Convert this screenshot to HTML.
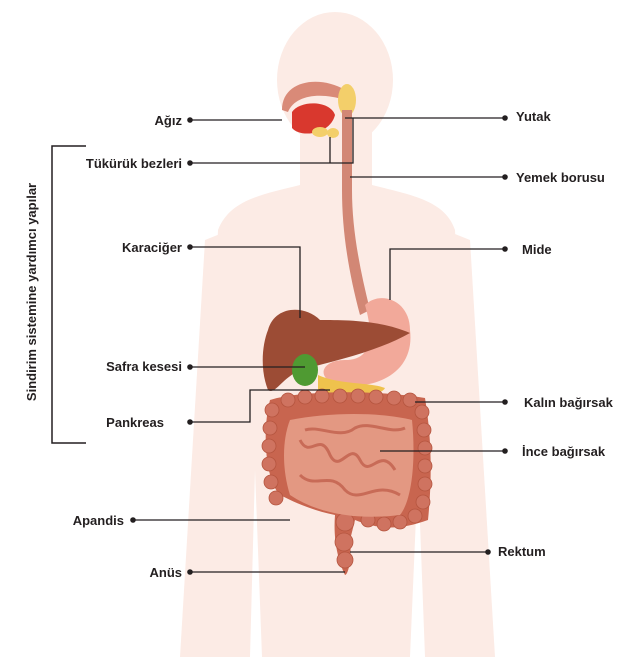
<!DOCTYPE html>
<html><head><meta charset="utf-8"><style>
html,body{margin:0;padding:0;background:#fff;width:642px;height:657px;overflow:hidden}
svg{display:block}
text{font-family:"Liberation Sans",Arial,sans-serif;font-weight:bold;font-size:13px;fill:#231f20}
</style></head><body>
<svg width="642" height="657" viewBox="0 0 642 657" xmlns="http://www.w3.org/2000/svg">
<g fill="#fcebe5">
<ellipse cx="335" cy="80" rx="58" ry="68"/>
<path d="M300 130 L300 185 C260 195 230 200 218 230 L200 657 L250 657 L255 470 L262 657 L410 657 L418 470 L425 657 L475 657 L455 230 C445 200 410 195 372 185 L372 130 Z"/>
<path d="M230 230 L205 657 L180 657 L205 240 Z"/>
<path d="M445 230 L470 657 L495 657 L470 240 Z"/>
</g>
<path d="M282 110 C282 80 320 75 345 90 L345 100 C320 92 295 95 288 112 Z" fill="#d98a78"/>
<path d="M292 112 C300 100 330 100 335 115 C330 135 300 138 292 128 Z" fill="#d9382e"/>
<ellipse cx="347" cy="100" rx="9" ry="16" fill="#f3cf6a"/>
<ellipse cx="320" cy="132" rx="8" ry="5" fill="#f3cf6a"/>
<ellipse cx="333" cy="133" rx="6" ry="5" fill="#f3cf6a"/>
<path d="M342 110 L352 110 L352 190 C352 230 360 270 370 310 L360 315 C348 270 342 230 342 190 Z" fill="#d28775"/>
<path d="M365 305 C380 290 410 300 410 330 C415 370 380 390 340 385 C315 380 320 360 345 360 C370 360 375 340 365 305 Z" fill="#f2a99a"/>
<path d="M268 330 C275 305 305 305 320 320 C345 320 380 320 410 333 C380 350 340 360 300 370 C280 380 275 395 268 390 C260 370 262 345 268 330 Z" fill="#9c4c35"/>
<ellipse cx="305" cy="370" rx="13" ry="16" fill="#4f9a32"/>
<path d="M318 375 C340 385 370 382 385 388 C380 398 340 398 318 390 Z" fill="#efc24d"/>
<path d="M270 400 C300 390 380 390 425 398 C432 440 432 480 428 520 C400 530 380 530 355 520 L350 540 C352 560 348 575 345 575 C338 560 333 540 335 515 C310 510 290 500 280 495 C265 480 262 430 270 400 Z" fill="#c8654f"/>
<g fill="#cf7360" stroke="#b5553f" stroke-width="0.8">
<circle cx="272" cy="410" r="7"/><circle cx="270" cy="428" r="7"/><circle cx="269" cy="446" r="7"/><circle cx="269" cy="464" r="7"/><circle cx="271" cy="482" r="7"/><circle cx="276" cy="498" r="7"/>
<circle cx="288" cy="400" r="7"/><circle cx="305" cy="397" r="7"/><circle cx="322" cy="396" r="7"/><circle cx="340" cy="396" r="7"/><circle cx="358" cy="396" r="7"/><circle cx="376" cy="397" r="7"/><circle cx="394" cy="398" r="7"/><circle cx="410" cy="400" r="7"/>
<circle cx="422" cy="412" r="7"/><circle cx="424" cy="430" r="7"/><circle cx="425" cy="448" r="7"/><circle cx="425" cy="466" r="7"/><circle cx="425" cy="484" r="7"/><circle cx="423" cy="502" r="7"/><circle cx="415" cy="516" r="7"/><circle cx="400" cy="522" r="7"/><circle cx="384" cy="524" r="7"/><circle cx="368" cy="520" r="7"/>
<circle cx="345" cy="522" r="9"/><circle cx="344" cy="542" r="9"/><circle cx="345" cy="560" r="8"/>
</g>
<path d="M290 420 C330 412 380 412 412 420 C416 460 412 500 400 515 C360 520 320 515 290 495 C282 470 282 440 290 420 Z" fill="#e39882"/>
<g fill="none" stroke="#c86b57" stroke-width="3">
<path d="M300 440 C310 460 320 430 330 455 C340 475 350 440 360 460 C370 480 380 445 395 470"/>
<path d="M300 475 C315 490 330 470 345 490 C360 505 375 480 400 495"/>
<path d="M305 430 C320 425 340 440 355 428 C370 420 390 435 405 428"/>
</g>
<path d="M86 146 H52 V443 H86" fill="none" stroke="#231f20" stroke-width="1.5"/>
<text transform="translate(36 292) rotate(-90)" text-anchor="middle">Sindirim sistemine yardımcı yapılar</text>
<g fill="none" stroke="#231f20" stroke-width="1.3">
<path d="M190 120 H282"/>
<path d="M190 163 H353 V118"/><path d="M330 163 V137"/>
<path d="M505 118 H345"/>
<path d="M505 177 H350"/>
<path d="M190 247 H300 V318"/>
<path d="M505 249 H390 V300"/>
<path d="M190 367 H305"/>
<path d="M190 422 H250 V390 H330"/>
<path d="M505 402 H415"/>
<path d="M505 451 H380"/>
<path d="M133 520 H290"/>
<path d="M488 552 H350"/>
<path d="M190 572 H345"/>
</g>
<g fill="#231f20">
<circle cx="190" cy="120" r="2.8"/><circle cx="190" cy="163" r="2.8"/><circle cx="505" cy="118" r="2.8"/>
<circle cx="505" cy="177" r="2.8"/><circle cx="190" cy="247" r="2.8"/><circle cx="505" cy="249" r="2.8"/>
<circle cx="190" cy="367" r="2.8"/><circle cx="190" cy="422" r="2.8"/><circle cx="505" cy="402" r="2.8"/>
<circle cx="505" cy="451" r="2.8"/><circle cx="133" cy="520" r="2.8"/><circle cx="488" cy="552" r="2.8"/>
<circle cx="190" cy="572" r="2.8"/>
</g>
<text x="182" y="125" text-anchor="end">Ağız</text>
<text x="182" y="168" text-anchor="end">Tükürük bezleri</text>
<text x="182" y="252" text-anchor="end">Karaciğer</text>
<text x="182" y="371" text-anchor="end">Safra kesesi</text>
<text x="164" y="427" text-anchor="end">Pankreas</text>
<text x="124" y="525" text-anchor="end">Apandis</text>
<text x="182" y="577" text-anchor="end">Anüs</text>
<text x="516" y="121">Yutak</text>
<text x="516" y="182">Yemek borusu</text>
<text x="522" y="254">Mide</text>
<text x="524" y="407">Kalın bağırsak</text>
<text x="522" y="456">İnce bağırsak</text>
<text x="498" y="556">Rektum</text>
</svg>
</body></html>
